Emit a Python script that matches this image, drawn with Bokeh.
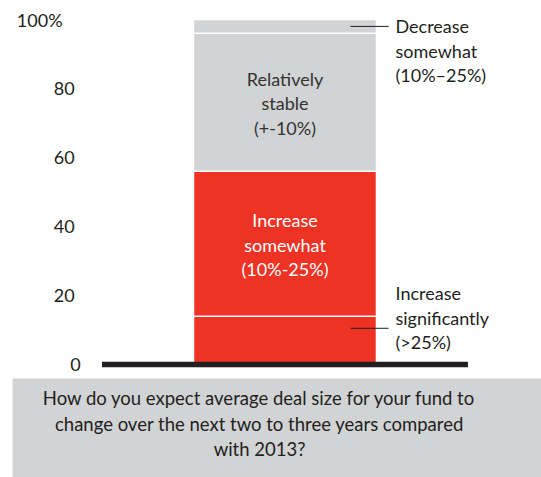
import numpy as np
from bokeh.plotting import figure
from bokeh.models import ColumnDataSource, Range1d
from bokeh.core.properties import value
from bokeh.embed import file_html
from bokeh.resources import INLINE

# ---- data ----
segments = ["Increase significantly", "Increase somewhat", "Relatively stable", "Decrease somewhat"]
shares = [14, 42, 40, 4]
inside_labels = {
    "Increase somewhat": ["Increase", "somewhat", "(10%-25%)"],
    "Relatively stable": ["Relatively", "stable", "(+-10%)"],
}
callout_labels = {
    "Decrease somewhat": ["Decrease", "somewhat", "(10%\u201325%)"],
    "Increase significantly": ["Increase", "significantly", "(>25%)"],
}
tick_values = [0, 20, 40, 60, 80, 100]
tick_labels = ["0", "20", "40", "60", "80", "100%"]
question_lines = [
    "How do you expect average deal size for your fund to",
    "change over the next two to three years compared",
    "with 2013?",
]

# ---- styles ----
RED = "#EE3325"
GRAY = "#D1D3D4"
DARK = "#231F20"
FONT = value("Lato")
seg_colors = [RED, RED, GRAY, GRAY]

W, H = 541, 477
p = figure(width=W, height=H, output_backend="svg", toolbar_location=None,
           x_axis_type=None, y_axis_type=None,
           x_range=Range1d(-1.555, 1.402), y_range=Range1d(-32.75, 105.51),
           min_border=0, outline_line_color=None)
p.grid.visible = False
p.background_fill_color = "white"
p.border_fill_color = "white"

# stacked bar
tops = np.cumsum(shares)
bottoms = tops - np.array(shares)
bar_src = ColumnDataSource(dict(left=[-0.5] * 4, right=[0.5] * 4,
                                bottom=bottoms, top=tops, color=seg_colors))
p.quad(left="left", right="right", bottom="bottom", top="top", fill_color="color",
       line_color="white", line_width=1.5, source=bar_src)

# baseline
p.segment(x0=-1, y0=0, x1=1, y1=0, line_width=5.5, line_color=DARK)

# question box
p.quad(left=-1.489, right=2.0, top=-4.06, bottom=-40, fill_color=GRAY, line_color=None)
q_src = ColumnDataSource(dict(x=[-0.139] * 3, y=[-4.06] * 3, text=question_lines,
                              yo=[19, 45, 70]))
p.text(x="x", y="y", text="text", y_offset="yo", source=q_src, text_font=FONT,
       text_font_size="18.5px", text_color=DARK, text_align="center", text_baseline="middle")

# inside labels
seg_index = {s: i for i, s in enumerate(segments)}
xs, ys, txt, yo, cols = [], [], [], [], []
for seg, lines in inside_labels.items():
    i = seg_index[seg]
    mid = (bottoms[i] + tops[i]) / 2
    for k, ln in enumerate(lines):
        xs.append(0); ys.append(mid); txt.append(ln); yo.append(-23.5 + 24.5 * k)
        cols.append("white" if seg_colors[i] == RED else "#333333")
in_src = ColumnDataSource(dict(x=xs, y=ys, text=txt, yo=yo, c=cols))
p.text(x="x", y="y", text="text", y_offset="yo", text_color="c", source=in_src,
       text_font=FONT, text_font_size="18px", text_align="center", text_baseline="middle")

# callouts
lead_frac = {"Decrease somewhat": 0.5, "Increase significantly": 0.75}
text_off = {"Decrease somewhat": [0, 24.5, 49], "Increase significantly": [-35, -10.5, 14]}
lx0, lx1, ly, cx, cy, ct, cyo = [], [], [], [], [], [], []
for seg, lines in callout_labels.items():
    i = seg_index[seg]
    yv = bottoms[i] + lead_frac[seg] * shares[i]
    lx0.append(0.358); lx1.append(0.566); ly.append(yv)
    for k, ln in enumerate(lines):
        cx.append(0.604); cy.append(yv); ct.append(ln); cyo.append(text_off[seg][k])
p.segment(x0=lx0, y0=ly, x1=lx1, y1=ly, line_color=DARK, line_width=1)
c_src = ColumnDataSource(dict(x=cx, y=cy, text=ct, yo=cyo))
p.text(x="x", y="y", text="text", y_offset="yo", source=c_src, text_font=FONT,
       text_font_size="18px", text_color=DARK, text_align="left", text_baseline="middle")

# y tick labels
t_src = ColumnDataSource(dict(x=[-1.150] * len(tick_values), y=tick_values, text=tick_labels,
                              xo=[6, 0, 0, 0, 0, -12]))
p.text(x="x", y="y", text="text", x_offset="xo", source=t_src, text_font=FONT,
       text_font_size="18px", text_color=DARK, text_align="right", text_baseline="middle")

open("out.html", "w").write(file_html(p, INLINE))
